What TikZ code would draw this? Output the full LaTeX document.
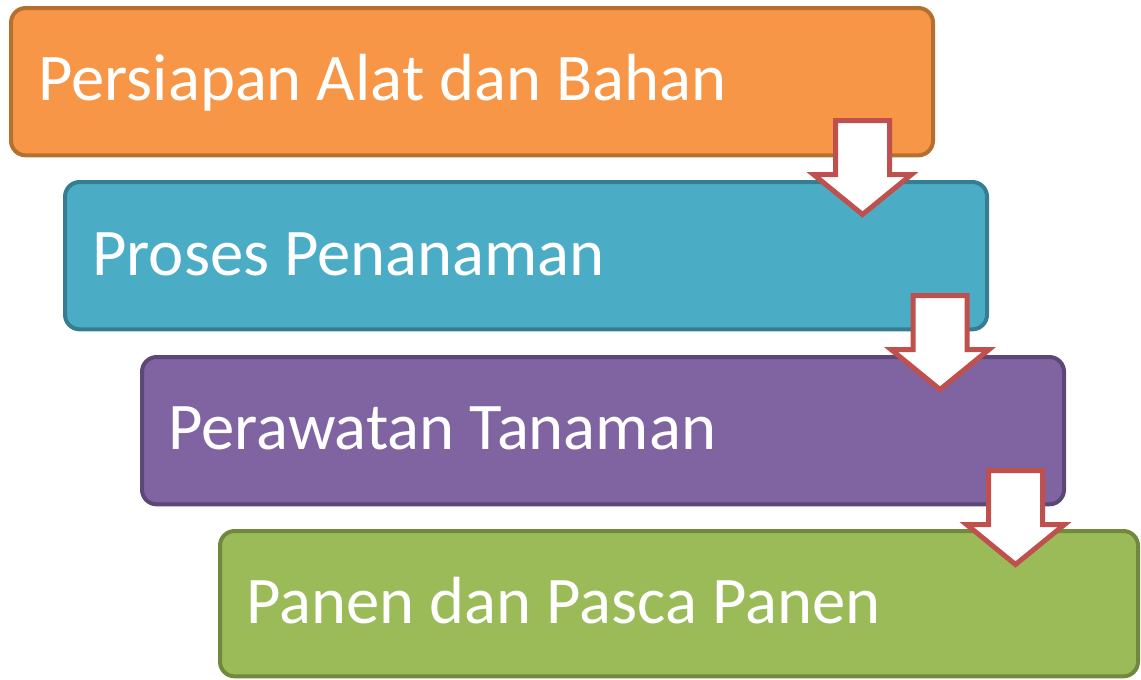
\documentclass[tikz,border=0pt]{standalone}
\usepackage{fontspec}
\setmainfont{Carlito}
\definecolor{boxorange}{HTML}{F79646}
\definecolor{lineorange}{HTML}{B5702F}
\definecolor{boxteal}{HTML}{4BACC6}
\definecolor{lineteal}{HTML}{357D91}
\definecolor{boxpurple}{HTML}{8064A2}
\definecolor{linepurple}{HTML}{5C4776}
\definecolor{boxgreen}{HTML}{9BBB59}
\definecolor{linegreen}{HTML}{71893F}
\definecolor{arrowred}{HTML}{C0504D}
\begin{document}
\begin{tikzpicture}[x=0.75pt,y=-0.75pt,
  stagebox/.style={rectangle, rounded corners=11pt, line width=3pt, inner sep=0pt, outer sep=0pt,
    anchor=north west, minimum width=691.5pt, minimum height=110.5pt},
  stagelabel/.style={anchor=base west, text=white, inner sep=0pt, font=\fontsize{50}{60}\selectfont},
  arrowline/.style={draw=arrowred, fill=white, line width=3.75pt, miter limit=10},
  downarrow/.pic={\path[arrowline] (-27,0) -- (27,0) -- (27,54) -- (49,54) -- (0,94) -- (-49,54) -- (-27,54) -- cycle;}
]
\useasboundingbox (0,0) rectangle (1141,679);
\node[stagebox, fill=boxorange, draw=lineorange] (b1) at (11,8) {};
\node[stagebox, fill=boxteal, draw=lineteal] (b2) at (65,182) {};
\node[stagebox, fill=boxpurple, draw=linepurple] (b3) at (142,357) {};
\node[stagebox, fill=boxgreen, draw=linegreen, minimum width=688.5pt, minimum height=109pt] (b4) at (220,531) {};
\node[stagelabel] (t1) at (38,100) {Persiapan Alat dan Bahan};
\node[stagelabel] (t2) at (92,275) {Proses Penanaman};
\node[stagelabel] (t3) at (168,449) {Perawatan Tanaman};
\node[stagelabel] (t4) at (246,623) {Panen dan Pasca Panen};
\coordinate (a1) at (862.5,120.5);
\coordinate (a2) at (940,295.5);
\coordinate (a3) at (1015.5,470.5);
\pic at (a1) {downarrow};
\pic at (a2) {downarrow};
\pic at (a3) {downarrow};
\end{tikzpicture}
\end{document}
